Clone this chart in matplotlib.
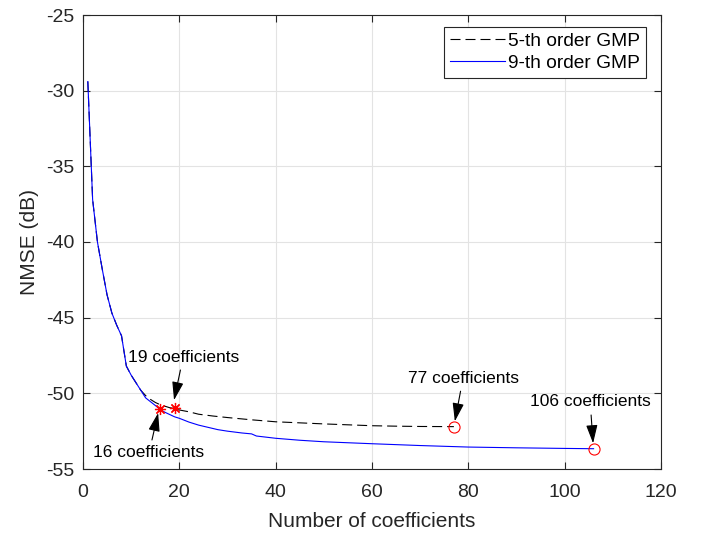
import matplotlib
matplotlib.use('Agg')
import matplotlib.pyplot as plt

plt.rcParams['font.family'] = ['Liberation Sans', 'DejaVu Sans']
plt.rcParams['axes.unicode_minus'] = False

# 9-th order GMP: NMSE (dB) vs number of coefficients
x9 = [1, 2, 3, 4, 5, 6, 7, 8, 9, 10, 11, 12, 13, 14, 15, 16, 17, 18, 19, 20,
      22, 24, 26, 28, 30, 33, 35, 36, 40, 45, 50, 60, 70, 80, 90, 100, 106]
y9 = [-29.4, -37.2, -40.0, -41.8, -43.5, -44.7, -45.5, -46.2, -48.2, -48.8,
      -49.3, -49.8, -50.3, -50.55, -50.8, -51.06, -51.25, -51.4, -51.55, -51.65,
      -51.9, -52.1, -52.25, -52.4, -52.5, -52.62, -52.68, -52.82, -52.97, -53.1,
      -53.2, -53.33, -53.45, -53.55, -53.6, -53.64, -53.66]

# 5-th order GMP
x5 = [1, 2, 3, 4, 5, 6, 7, 8, 9, 10, 11, 12, 13, 14, 15, 16, 17, 18, 19, 20,
      22, 24, 27, 30, 35, 40, 45, 50, 55, 60, 65, 70, 77]
y5 = [-29.4, -37.2, -40.0, -41.8, -43.5, -44.7, -45.5, -46.2, -48.2, -48.8,
      -49.3, -49.8, -50.15, -50.4, -50.6, -50.75, -50.85, -50.95, -51.0, -51.1,
      -51.22, -51.38, -51.5, -51.6, -51.75, -51.88, -51.95, -52.02, -52.08,
      -52.14, -52.17, -52.19, -52.2]

fig = plt.figure(figsize=(7.02, 5.35), dpi=100)
ax = fig.add_axes([83/702, 1-469/535, (661-83)/702, (469-15)/535])

ax.plot(x5, y5, color='k', lw=0.8, dashes=(9, 4.5), label='5-th order GMP')
ax.plot(x9, y9, color='#0000ff', lw=0.8, label='9-th order GMP')

star = (8, 2, 0)
ax.plot(16, y9[x9.index(16)], marker=star, color='r', ms=8, mew=0.9)
ax.plot(19, y5[x5.index(19)], marker=star, color='r', ms=8, mew=0.9)
ax.plot(77, y5[-1], marker='o', mfc='none', mec='r', ms=8, mew=0.8)
ax.plot(106, y9[-1], marker='o', mfc='none', mec='r', ms=8, mew=0.8)

arw = dict(arrowstyle='-|>,head_length=0.9,head_width=0.28', color='k', lw=0.8,
           shrinkA=2, shrinkB=0)
fs_ann = 12.5
ax.annotate('19 coefficients', xy=(18.9, -50.45), xytext=(20.8, -47.6),
            ha='center', va='center', fontsize=fs_ann, arrowprops=arw)
ax.annotate('16 coefficients', xy=(15.6, -51.3), xytext=(13.7, -53.94),
            ha='center', va='center', fontsize=fs_ann, arrowprops=arw)
ax.annotate('77 coefficients', xy=(77.2, -51.85), xytext=(78.9, -49.0),
            ha='center', va='center', fontsize=fs_ann, arrowprops=arw)
ax.annotate('106 coefficients', xy=(105.9, -53.3), xytext=(105.3, -50.57),
            ha='center', va='center', fontsize=fs_ann, arrowprops=arw)

ax.set_xlim(0, 120)
ax.set_ylim(-55, -25)
ax.set_xticks(range(0, 121, 20))
ax.set_yticks(range(-55, -24, 5))
ax.grid(True, color='#e3e3e3', lw=0.8)
ax.set_axisbelow(True)
ax.tick_params(direction='in', top=True, right=True, labelsize=14,
               colors='#262626', length=5)
ax.tick_params(axis='x', pad=11)
ax.tick_params(axis='y', pad=6)
for s in ax.spines.values():
    s.set_color('#262626')
    s.set_linewidth(0.8)
ax.set_xlabel('Number of coefficients', fontsize=15, color='#262626', labelpad=8)
ax.set_ylabel('NMSE (dB)', fontsize=15, color='#262626', labelpad=5)

leg = ax.legend(loc='upper right', bbox_to_anchor=(0.974, 0.974),
                borderaxespad=0, fontsize=13.8, handlelength=2.9,
                fancybox=False, edgecolor='#262626', framealpha=1,
                handletextpad=0.15, labelspacing=0.25, borderpad=0.3)
leg.get_frame().set_linewidth(0.8)

fig.savefig('out.png', dpi=100)
